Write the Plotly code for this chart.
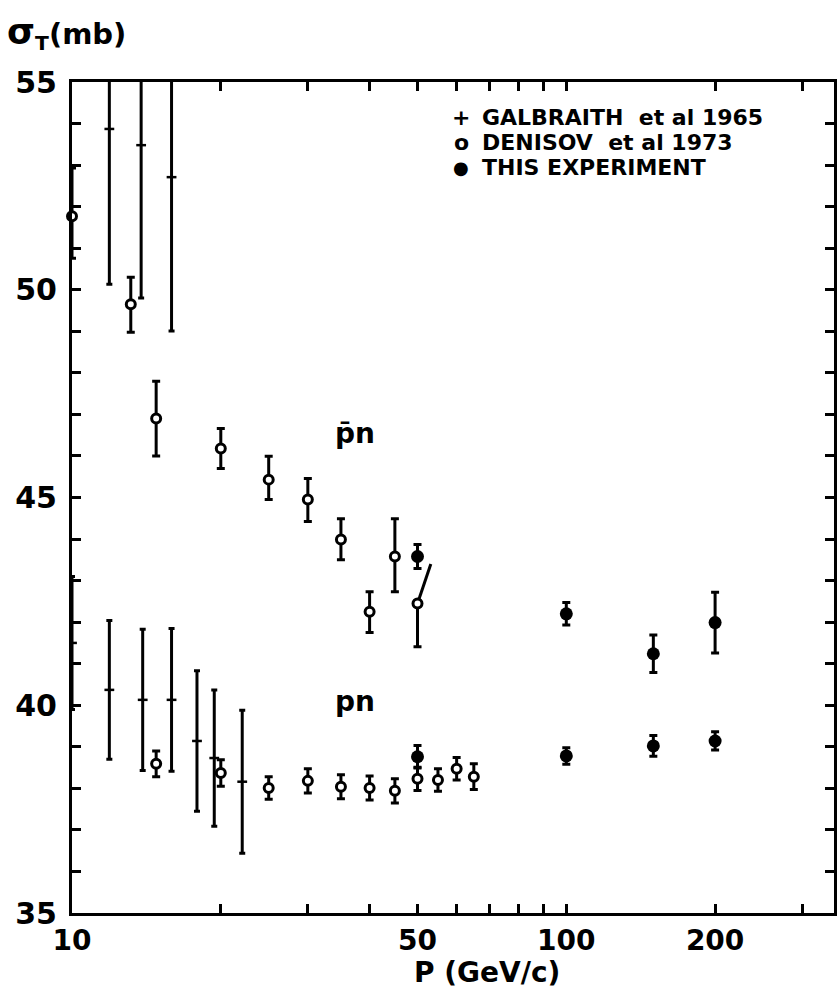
import math
import plotly.graph_objects as go

# ---- data (momentum P in GeV/c, total cross section in mb) ----
# Galbraith et al 1965
galb_pbar_p = [11.9, 13.8, 15.9]
galb_pbar_sig = [53.87, 53.48, 52.71]
galb_pbar_err = [3.74, 3.68, 3.70]

galb_p_p = [10.0, 11.9, 13.9, 15.9, 17.9, 19.4, 22.1]
galb_p_sig = [41.50, 40.37, 40.13, 40.13, 39.14, 38.73, 38.16]
galb_p_err = [1.60, 1.67, 1.70, 1.72, 1.69, 1.64, 1.72]

# Denisov et al 1973
den_pbar_p = [10.0, 13.15, 14.8, 20, 25, 30, 35, 40, 45, 50]
den_pbar_sig = [51.77, 49.65, 46.90, 46.18, 45.43, 44.95, 43.99, 42.25, 43.58, 42.45]
den_pbar_up = [1.16, 0.65, 0.90, 0.48, 0.56, 0.51, 0.50, 0.48, 0.91, 0.0]
den_pbar_dn = [1.01, 0.67, 0.90, 0.48, 0.48, 0.53, 0.49, 0.50, 0.85, 1.04]
# upper bar of the 50 GeV/c point, drawn displaced
den_pbar_shift_p = [50, 53.2]
den_pbar_shift_sig = [42.45, 43.40]

den_p_p = [14.8, 20, 25, 30, 35, 40, 45, 50, 55, 60, 65]
den_p_sig = [38.59, 38.37, 38.01, 38.18, 38.04, 38.01, 37.94, 38.23, 38.20, 38.47, 38.28]
den_p_err = [0.31, 0.32, 0.27, 0.29, 0.29, 0.29, 0.29, 0.28, 0.27, 0.27, 0.31]

# This experiment
exp_p = [50, 100, 150, 200]
exp_pbar_sig = [43.58, 42.20, 41.24, 41.99]
exp_pbar_err = [0.29, 0.27, 0.45, 0.73]
exp_pn_sig = [38.76, 38.78, 39.02, 39.14]
exp_pn_err = [0.27, 0.20, 0.25, 0.22]

# ---- axes ticks ----
x_tickvals = [10, 20, 30, 40, 50, 60, 70, 80, 90, 100, 200, 300]
x_ticktext = ["10", "", "", "", "50", "", "", "", "", "100", "200", ""]
y_tickvals = list(range(35, 56))
y_ticktext = [str(v) if v % 5 == 0 else "" for v in y_tickvals]

legend_labels = ["GALBRAITH\u00a0\u00a0et al 1965", "DENISOV\u00a0\u00a0et al 1973", "THIS EXPERIMENT"]
legend_glyphs = ["+", "o", "\u25cf"]

FONT = "DejaVu Sans"
BLACK = "black"

fig = go.Figure()


def galb_trace(x, y, e):
    return go.Scatter(
        x=x, y=y, mode="markers",
        marker=dict(symbol="line-ew", size=7, color=BLACK,
                    line=dict(color=BLACK, width=2.5)),
        error_y=dict(type="data", array=e, thickness=3, width=3, color=BLACK),
        showlegend=False, hoverinfo="skip",
    )


fig.add_trace(galb_trace(galb_pbar_p, galb_pbar_sig, galb_pbar_err))
fig.add_trace(galb_trace(galb_p_p, galb_p_sig, galb_p_err))

# displaced upper error bar
fig.add_trace(go.Scatter(
    x=den_pbar_shift_p, y=den_pbar_shift_sig, mode="lines",
    line=dict(color=BLACK, width=3), showlegend=False, hoverinfo="skip",
))

open_marker = dict(symbol="circle", size=9, color="white",
                   line=dict(color=BLACK, width=3))

fig.add_trace(go.Scatter(
    x=den_pbar_p, y=den_pbar_sig, mode="markers", marker=open_marker,
    error_y=dict(type="data", symmetric=False, array=den_pbar_up,
                 arrayminus=den_pbar_dn, thickness=3, width=4, color=BLACK),
    cliponaxis=False, showlegend=False, hoverinfo="skip",
))
fig.add_trace(go.Scatter(
    x=den_p_p, y=den_p_sig, mode="markers", marker=open_marker,
    error_y=dict(type="data", array=den_p_err, thickness=3, width=4, color=BLACK),
    cliponaxis=False, showlegend=False, hoverinfo="skip",
))

filled_marker = dict(symbol="circle", size=13, color=BLACK,
                     line=dict(color=BLACK, width=0))
fig.add_trace(go.Scatter(
    x=exp_p, y=exp_pbar_sig, mode="markers", marker=filled_marker,
    error_y=dict(type="data", array=exp_pbar_err, thickness=3, width=4, color=BLACK),
    showlegend=False, hoverinfo="skip",
))
fig.add_trace(go.Scatter(
    x=exp_p, y=exp_pn_sig, mode="markers", marker=filled_marker,
    error_y=dict(type="data", array=exp_pn_err, thickness=3, width=4, color=BLACK),
    showlegend=False, hoverinfo="skip",
))

axis_common = dict(
    showline=True, linecolor=BLACK, linewidth=3, mirror="ticks",
    ticks="inside", ticklen=9, tickwidth=2.5, tickcolor=BLACK,
    showgrid=False, zeroline=False,
)

fig.update_xaxes(
    type="log", range=[1, math.log10(348)],
    tickmode="array", tickvals=x_tickvals, ticktext=["<b>%s</b>" % t if t else "" for t in x_ticktext],
    tickfont=dict(family=FONT, size=28, color=BLACK),
    **axis_common,
)
fig.update_yaxes(
    range=[35, 55],
    tickmode="array", tickvals=y_tickvals, ticktext=["<b>%s</b>" % t if t else "" for t in y_ticktext],
    ticklabelstandoff=6,
    tickfont=dict(family=FONT, size=30, color=BLACK),
    **axis_common,
)

annotations = [
    # axis titles
    dict(text="<b>P (GeV/c)</b>", xref="paper", yref="paper", x=0.544, y=-0.0715,
         xanchor="center", yanchor="middle", showarrow=False,
         font=dict(family=FONT, size=28, color=BLACK)),
    dict(text="<b><span style='font-size:36px'>σ</span><sub>T</sub>(mb)</b>",
         xref="paper", yref="paper", x=-0.088, y=1.088,
         xanchor="left", yanchor="top", showarrow=False,
         font=dict(family=FONT, size=29, color=BLACK)),
    # reaction labels
    dict(text="<b>p\u0304n</b>", xref="x", yref="y", x=math.log10(37.4), y=46.55,
         xanchor="center", yanchor="middle", showarrow=False,
         font=dict(family=FONT, size=28, color=BLACK)),
    dict(text="<b>pn</b>", xref="x", yref="y", x=math.log10(37.4), y=40.1,
         xanchor="center", yanchor="middle", showarrow=False,
         font=dict(family=FONT, size=28, color=BLACK)),
]

legend_y = [0.9567, 0.9266, 0.8977]
for glyph, label, ly in zip(legend_glyphs, legend_labels, legend_y):
    annotations.append(dict(
        text="<b>%s</b>" % glyph, xref="paper", yref="paper", x=0.511, y=ly,
        xanchor="center", yanchor="middle", showarrow=False,
        font=dict(family=FONT, size=22 if glyph != "\u25cf" else 18, color=BLACK)))
    annotations.append(dict(
        text="<b>%s</b>" % label, xref="paper", yref="paper", x=0.536, y=ly,
        xanchor="left", yanchor="middle", showarrow=False,
        font=dict(family=FONT, size=22, color=BLACK)))

fig.update_layout(
    width=839, height=998,
    margin=dict(l=72, r=2, t=82, b=85),
    paper_bgcolor="white", plot_bgcolor="white",
    showlegend=False,
    annotations=annotations,
)

fig.write_html("out.html")
